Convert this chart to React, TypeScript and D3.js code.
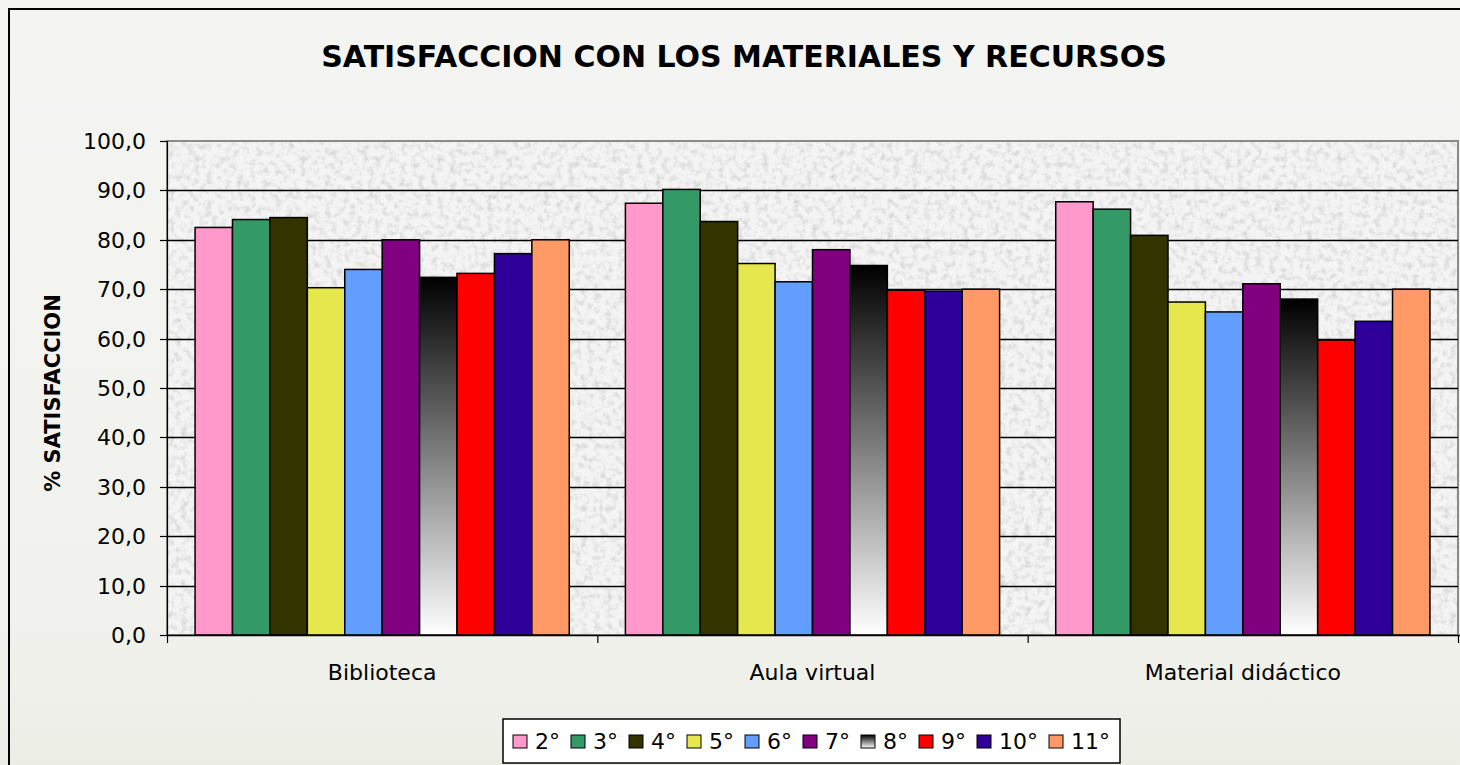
import React from "react";
import * as d3 from "d3";

const categories = ["Biblioteca", "Aula virtual", "Material didáctico"];
const series = ["2°", "3°", "4°", "5°", "6°", "7°", "8°", "9°", "10°", "11°"];
const colors = ["#FF99CC", "#339966", "#333300", "#E6E64D", "#639EFF", "#800080", "url(#grad8)", "#FF0000", "#2E0099", "#FF9966"];
// values[category][series]
const biblioteca = [82.5, 84.1, 84.5, 70.3, 74.0, 80.0, 72.4, 73.2, 77.2, 80.0];
const aulaVirtual = [87.4, 90.2, 83.7, 75.2, 71.5, 78.0, 74.8, 69.8, 69.6, 70.0];
const materialDidactico = [87.7, 86.2, 80.9, 67.4, 65.4, 71.1, 68.0, 59.7, 63.5, 70.0];
const values = [biblioteca, aulaVirtual, materialDidactico];
const yTicks = [0, 10, 20, 30, 40, 50, 60, 70, 80, 90, 100];
const title = "SATISFACCION CON LOS MATERIALES Y RECURSOS";
const yTitle = "% SATISFACCION";

const W = 1460, H = 765;
const pl = 167, pr = 1458, pt = 141, pb = 635;

export default function App() {
  const x0 = d3.scaleBand<string>().domain(categories).range([pl, pr]).padding(0);
  const x1 = d3.scaleBand<string>().domain(series).range([0, x0.bandwidth()]).paddingInner(0).paddingOuter(0.75);
  const y = d3.scaleLinear().domain([0, 100]).range([pb, pt]);
  const fmt = (v: number) => d3.format(".1f")(v).replace(".", ",");
  const font = "'DejaVu Sans', Verdana, sans-serif";

  // legend layout
  const legendX = 503, legendY = 719, legendH = 44;
  let cx = legendX + 10;
  const items = series.map((s, i) => {
    const w = 14 + 8 + (s.length === 2 ? 25 : 39) + 11;
    const it = { s, i, x: cx };
    cx += w;
    return it;
  });
  const legendW = cx - legendX - 1;

  return (
    <svg width={W} height={H} style={{ position: "absolute", left: 0, top: 0 }} fontFamily={font}>
      <defs>
        <linearGradient id="grad8" x1="0" y1="0" x2="0" y2="1">
          <stop offset="0" stopColor="#000" />
          <stop offset="1" stopColor="#fff" />
        </linearGradient>
        <linearGradient id="bgGrad" x1="0" y1="0" x2="0" y2="1">
          <stop offset="0" stopColor="#f4f5f2" />
          <stop offset="0.8" stopColor="#f1f2ed" />
          <stop offset="1" stopColor="#eceee6" />
        </linearGradient>
        <filter id="granite" x="0" y="0" width="100%" height="100%">
          <feTurbulence type="fractalNoise" baseFrequency="0.16" numOctaves="4" seed="3" result="n" />
          <feColorMatrix in="n" type="matrix"
            values="0 0 0 0 0.55  0 0 0 0 0.55  0 0 0 0 0.55  -2.0 0 0 0 1.1" />
        </filter>
      </defs>
      <rect x={0} y={0} width={W} height={H} fill="url(#bgGrad)" />
      <rect x={9} y={9} width={W + 20} height={H + 20} fill="none" stroke="#000" strokeWidth={2} />

      <text x={744} y={67} textAnchor="middle" fontSize={30} fontWeight="bold" fill="#000">{title}</text>

      {/* plot area */}
      <rect x={pl} y={pt} width={pr - pl} height={pb - pt} fill="#f4f4f4" />
      <rect x={pl} y={pt} width={pr - pl} height={pb - pt} fill="#fff" filter="url(#granite)" opacity={0.75} />
      <rect x={pl} y={pt} width={pr - pl} height={pb - pt} fill="none" stroke="#8a8a8a" strokeWidth={2} />

      {yTicks.filter(t => t > 0 && t < 100).map(t => (
        <line key={t} x1={pl} x2={pr} y1={Math.round(y(t)) + 0.5} y2={Math.round(y(t)) + 0.5} stroke="#000" strokeWidth={1.3} />
      ))}

      {categories.map((c, ci) => (
        <g key={c}>
          {series.map((s, si) => {
            const v = values[ci][si];
            const bx = (x0(c) as number) + (x1(s) as number);
            return (
              <rect key={s} x={bx} y={y(v)} width={x1.bandwidth()} height={y(0) - y(v)}
                fill={colors[si]} stroke="#000" strokeWidth={1.5} />
            );
          })}
        </g>
      ))}

      {/* y axis */}
      <line x1={pl + 0.5} x2={pl + 0.5} y1={pt} y2={pb} stroke="#000" strokeWidth={1.2} />
      {yTicks.map(t => (
        <g key={t}>
          <line x1={pl - 7} x2={pl} y1={Math.round(y(t)) + 0.5} y2={Math.round(y(t)) + 0.5} stroke="#000" strokeWidth={1.2} />
          <text x={146} y={y(t)} dy="0.36em" textAnchor="end" fontSize={22} fill="#000">{fmt(t)}</text>
        </g>
      ))}
      <text transform={`translate(60,393) rotate(-90)`} textAnchor="middle" fontSize={21} fontWeight="bold" fill="#000">{yTitle}</text>

      {/* x axis */}
      <line x1={pl} x2={pr + 2} y1={pb + 0.5} y2={pb + 0.5} stroke="#000" strokeWidth={1.5} />
      {[...categories.map(c => x0(c) as number), pr].map((xv, i) => (
        <line key={i} x1={xv + 0.5} x2={xv + 0.5} y1={pb} y2={pb + 8} stroke="#000" strokeWidth={1.2} />
      ))}
      {categories.map(c => (
        <text key={c} x={(x0(c) as number) + x0.bandwidth() / 2} y={680} textAnchor="middle" fontSize={22} fill="#000">{c}</text>
      ))}

      {/* legend */}
      <rect x={legendX} y={legendY} width={legendW} height={legendH} fill="#fff" stroke="#000" strokeWidth={1.5} />
      {items.map(it => (
        <g key={it.s}>
          <rect x={it.x} y={735} width={14} height={13} fill={colors[it.i]} stroke="#000" strokeWidth={1} />
          <text x={it.x + 22} y={749} fontSize={22} fill="#000">{it.s}</text>
        </g>
      ))}
    </svg>
  );
}
